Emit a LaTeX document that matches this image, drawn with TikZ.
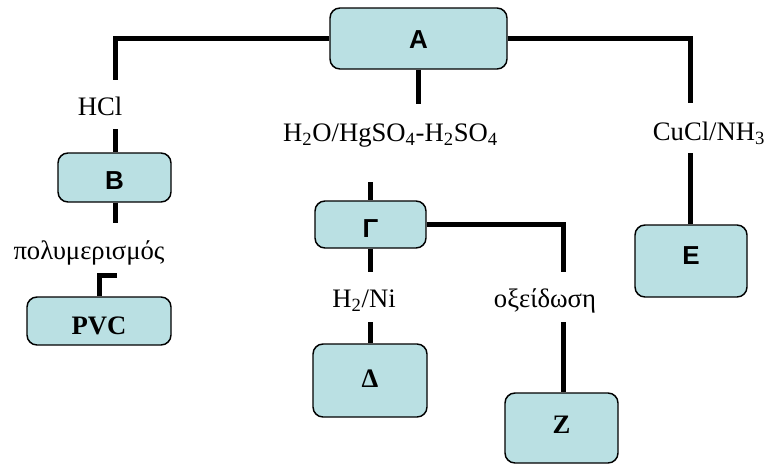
\documentclass[tikz,border=0pt]{standalone}
\usepackage{fontspec}
\setmainfont{Liberation Serif}
\newfontfamily\boxsans{Liberation Sans}
\definecolor{boxfill}{RGB}{186,224,227}
\newcommand\myvshift[2]{\raisebox{#1}[\height][\depth]{#2}}
\begin{document}
\begin{tikzpicture}[x=0.75pt,y=-0.75pt,
  box/.style={draw=black,line width=1.1pt,fill=boxfill,rounded corners=7.5pt,inner sep=0pt},
  sansbox/.style={box,font=\boxsans\bfseries\fontsize{19.5}{21}\selectfont},
  serifbox/.style={box,font=\bfseries\fontsize{20}{22}\selectfont},
  conn/.style={line width=3.75pt,line cap=butt},
  lbl/.style={inner sep=0pt,anchor=base,font=\fontsize{20}{22}\selectfont}]
\useasboundingbox (0,0) rectangle (765,464);
% boxes
\node[sansbox,minimum width=177*0.75pt,minimum height=61*0.75pt] (A) at (418.5,38.5) {\myvshift{-0.75pt}{A}};
\node[sansbox,minimum width=113*0.75pt,minimum height=49*0.75pt] (B) at (114.5,177.5) {\myvshift{-2.25pt}{B}};
\node[serifbox,minimum width=144*0.75pt,minimum height=48*0.75pt] (PVC) at (99,321) {\myvshift{-3.4pt}{PVC}};
\node[sansbox,minimum width=111*0.75pt,minimum height=47*0.75pt] (G) at (370.5,224.5) {\myvshift{-3pt}{Γ}};
\node[serifbox,minimum width=114*0.75pt,minimum height=73*0.75pt] (D) at (370,380.5) {\myvshift{1.5pt}{Δ}};
\node[sansbox,minimum width=112*0.75pt,minimum height=72*0.75pt] (E) at (691,261) {\myvshift{3.75pt}{E}};
\node[serifbox,minimum width=113*0.75pt,minimum height=70*0.75pt] (Z) at (561.5,428) {\myvshift{2.25pt}{Z}};
% labels
\node[lbl] (hcl) at (100,115) {HCl};
\node[lbl] (h2o) at (390.5,141) {H\textsubscript{2}O/HgSO\textsubscript{4}-H\textsubscript{2}SO\textsubscript{4}};
\node[lbl] (cucl) at (709,140) {CuCl/NH\textsubscript{3}};
\node[lbl] (poly) at (89,259) {πολυμερισμός};
\node[lbl] (h2ni) at (364,307) {H\textsubscript{2}/Ni};
\node[lbl] (oxid) at (545,307) {οξείδωση};
% connector end points
\coordinate (c1) at (115,80);
\coordinate (c2) at (115,129);
\coordinate (c3) at (115,223);
\coordinate (c4) at (117,275.5);
\coordinate (c5) at (418,104);
\coordinate (c6) at (370,182);
\coordinate (c7) at (563,272);
\coordinate (c8) at (563,322);
\coordinate (c9) at (370,272);
\coordinate (c10) at (370,322);
\coordinate (c11) at (690,103);
\coordinate (c12) at (690,153);
% connectors
\draw[conn] (A.west) -| (c1);
\draw[conn] (c2) -- (c2 |- B.north);
\draw[conn] (c3 |- B.south) -- (c3);
\draw[conn] (c4) -| (PVC.north);
\draw[conn] (c5 |- A.south) -- (c5);
\draw[conn] (c6) -- (c6 |- G.north);
\draw[conn] (G.east) -| (c7);
\draw[conn] (c8) -- (c8 |- Z.north);
\draw[conn] (c9 |- G.south) -- (c9);
\draw[conn] (c10) -- (c10 |- D.north);
\draw[conn] (A.east) -| (c11);
\draw[conn] (c12) -- (c12 |- E.north);
\end{tikzpicture}
\end{document}
